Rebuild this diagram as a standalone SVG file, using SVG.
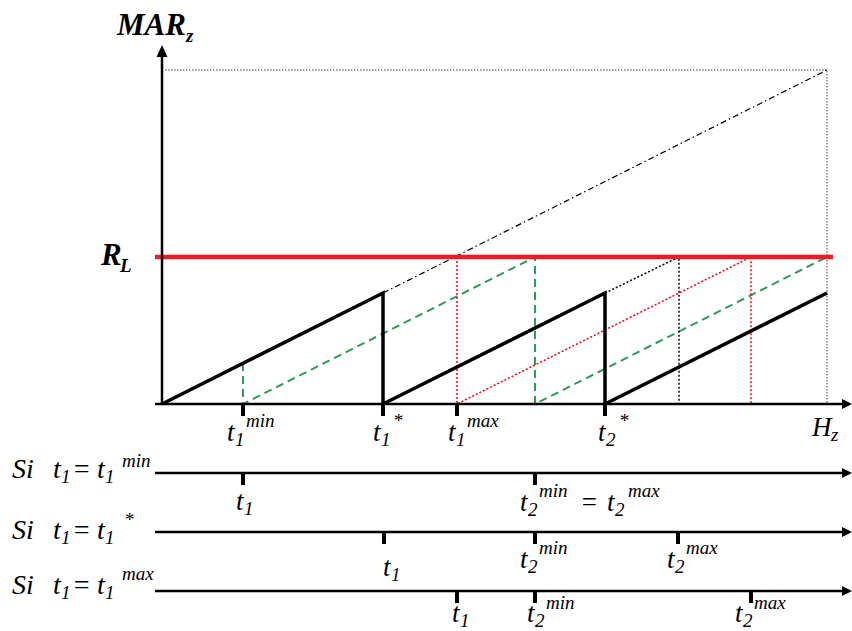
<svg xmlns="http://www.w3.org/2000/svg" width="852" height="631" viewBox="0 0 852 631">
<g id="guides" fill="none">
<path d="M165,70 H827 V404" stroke="#444" stroke-width="1" stroke-dasharray="1.5 1.5"/>
<path d="M383,293 L827,70" stroke="#000" stroke-width="1.2" stroke-dasharray="6 3 1.5 3"/>
<path d="M243,363 V404 L535,257 V404 L827,257" stroke="#2E9B5A" stroke-width="2" stroke-dasharray="8 5"/>
<path d="M457,257 V404 L751,257 V404" stroke="#FF0000" stroke-width="1.5" stroke-dasharray="2 2"/>
<path d="M605,293 L679,257 V404" stroke="#000" stroke-width="1.5" stroke-dasharray="2 2"/>
</g>
<g id="sawtooth">
<path d="M162,404 L383,293 V404 L605,293 V404 L827,293" fill="none" stroke="#000" stroke-width="3.5"/>
</g>
<g id="limit">
<line x1="155" y1="257" x2="833" y2="257" stroke="#ED1C24" stroke-width="4.5"/>
</g>
<g id="axes" stroke="#000">
<line x1="162" y1="404" x2="162" y2="56" stroke-width="2.5"/>
<path d="M162,45 L156.5,57 L167.5,57 Z" fill="#000" stroke="none"/>
<line x1="155" y1="404" x2="843" y2="404" stroke-width="2.5"/>
<path d="M852,404 L842,399 L842,409 Z" fill="#000" stroke="none"/>
<line x1="243" y1="404" x2="243" y2="416" stroke-width="4"/>
<line x1="383" y1="404" x2="383" y2="416" stroke-width="4"/>
<line x1="457" y1="404" x2="457" y2="416" stroke-width="4"/>
<line x1="605" y1="404" x2="605" y2="416" stroke-width="4"/>
</g>
<g id="timelines" stroke="#000">
<line x1="155" y1="473" x2="843" y2="473" stroke-width="2.5"/>
<path d="M852,473 L842,468 L842,478 Z" fill="#000" stroke="none"/>
<line x1="155" y1="532" x2="843" y2="532" stroke-width="2.5"/>
<path d="M852,532 L842,527 L842,537 Z" fill="#000" stroke="none"/>
<line x1="155" y1="591" x2="843" y2="591" stroke-width="2.5"/>
<path d="M852,591 L842,586 L842,596 Z" fill="#000" stroke="none"/>
<line x1="243" y1="473" x2="243" y2="485" stroke-width="4"/>
<line x1="535" y1="473" x2="535" y2="485" stroke-width="4"/>
<line x1="384" y1="532" x2="384" y2="544" stroke-width="4"/>
<line x1="535" y1="532" x2="535" y2="544" stroke-width="4"/>
<line x1="678" y1="532" x2="678" y2="544" stroke-width="4"/>
<line x1="457" y1="591" x2="457" y2="603" stroke-width="4"/>
<line x1="535" y1="591" x2="535" y2="603" stroke-width="4"/>
<line x1="751" y1="591" x2="751" y2="603" stroke-width="4"/>
</g>
<text x="117" y="35" font-family="Liberation Serif" font-style="italic" font-weight="bold" font-size="31">MAR</text>
<text x="186" y="42" font-family="Liberation Serif" font-style="italic" font-weight="bold" font-size="19">z</text>
<text x="101" y="265" font-family="Liberation Serif" font-style="italic" font-weight="bold" font-size="31">R</text>
<text x="120" y="272" font-family="Liberation Serif" font-style="italic" font-weight="bold" font-size="19">L</text>
<text x="812" y="436" font-family="Liberation Serif" font-style="italic" font-size="27">H</text>
<text x="831" y="441" font-family="Liberation Serif" font-style="italic" font-size="19">z</text>
<text x="227" y="441" font-family="Liberation Serif" font-style="italic" font-size="27">t</text>
<text x="235" y="446" font-family="Liberation Serif" font-style="italic" font-size="19">1</text>
<text x="246" y="427" font-family="Liberation Serif" font-style="italic" font-size="19">min</text>
<text x="373" y="441" font-family="Liberation Serif" font-style="italic" font-size="27">t</text>
<text x="381" y="446" font-family="Liberation Serif" font-style="italic" font-size="19">1</text>
<text x="393" y="427" font-family="Liberation Serif" font-style="italic" font-size="19">*</text>
<text x="448" y="441" font-family="Liberation Serif" font-style="italic" font-size="27">t</text>
<text x="456" y="446" font-family="Liberation Serif" font-style="italic" font-size="19">1</text>
<text x="467" y="427" font-family="Liberation Serif" font-style="italic" font-size="19">max</text>
<text x="598" y="441" font-family="Liberation Serif" font-style="italic" font-size="27">t</text>
<text x="606" y="446" font-family="Liberation Serif" font-style="italic" font-size="19">2</text>
<text x="619" y="427" font-family="Liberation Serif" font-style="italic" font-size="19">*</text>
<text x="12" y="478" font-family="Liberation Serif" font-style="italic" font-size="28">Si</text>
<text x="53" y="478" font-family="Liberation Serif" font-style="italic" font-size="28">t</text>
<text x="61" y="483" font-family="Liberation Serif" font-style="italic" font-size="19">1</text>
<text x="72" y="478" font-family="Liberation Serif" font-style="italic" font-size="28">=</text>
<text x="97" y="478" font-family="Liberation Serif" font-style="italic" font-size="28">t</text>
<text x="105" y="483" font-family="Liberation Serif" font-style="italic" font-size="19">1</text>
<text x="122" y="467" font-family="Liberation Serif" font-style="italic" font-size="19">min</text>
<text x="12" y="539" font-family="Liberation Serif" font-style="italic" font-size="28">Si</text>
<text x="53" y="539" font-family="Liberation Serif" font-style="italic" font-size="28">t</text>
<text x="61" y="544" font-family="Liberation Serif" font-style="italic" font-size="19">1</text>
<text x="72" y="539" font-family="Liberation Serif" font-style="italic" font-size="28">=</text>
<text x="97" y="539" font-family="Liberation Serif" font-style="italic" font-size="28">t</text>
<text x="105" y="544" font-family="Liberation Serif" font-style="italic" font-size="19">1</text>
<text x="124" y="526" font-family="Liberation Serif" font-style="italic" font-size="19">*</text>
<text x="12" y="594" font-family="Liberation Serif" font-style="italic" font-size="28">Si</text>
<text x="53" y="594" font-family="Liberation Serif" font-style="italic" font-size="28">t</text>
<text x="61" y="599" font-family="Liberation Serif" font-style="italic" font-size="19">1</text>
<text x="72" y="594" font-family="Liberation Serif" font-style="italic" font-size="28">=</text>
<text x="97" y="594" font-family="Liberation Serif" font-style="italic" font-size="28">t</text>
<text x="105" y="599" font-family="Liberation Serif" font-style="italic" font-size="19">1</text>
<text x="122" y="580" font-family="Liberation Serif" font-style="italic" font-size="19">max</text>
<text x="236" y="510" font-family="Liberation Serif" font-style="italic" font-size="27">t</text>
<text x="244" y="515" font-family="Liberation Serif" font-style="italic" font-size="19">1</text>
<text x="520" y="511" font-family="Liberation Serif" font-style="italic" font-size="27">t</text>
<text x="528" y="516" font-family="Liberation Serif" font-style="italic" font-size="19">2</text>
<text x="539" y="497" font-family="Liberation Serif" font-style="italic" font-size="19">min</text>
<text x="580" y="511" font-family="Liberation Serif" font-style="italic" font-size="27">=</text>
<text x="607" y="511" font-family="Liberation Serif" font-style="italic" font-size="27">t</text>
<text x="615" y="516" font-family="Liberation Serif" font-style="italic" font-size="19">2</text>
<text x="628" y="497" font-family="Liberation Serif" font-style="italic" font-size="19">max</text>
<text x="383" y="576" font-family="Liberation Serif" font-style="italic" font-size="27">t</text>
<text x="391" y="581" font-family="Liberation Serif" font-style="italic" font-size="19">1</text>
<text x="520" y="568" font-family="Liberation Serif" font-style="italic" font-size="27">t</text>
<text x="528" y="573" font-family="Liberation Serif" font-style="italic" font-size="19">2</text>
<text x="539" y="554" font-family="Liberation Serif" font-style="italic" font-size="19">min</text>
<text x="667" y="568" font-family="Liberation Serif" font-style="italic" font-size="27">t</text>
<text x="675" y="573" font-family="Liberation Serif" font-style="italic" font-size="19">2</text>
<text x="686" y="554" font-family="Liberation Serif" font-style="italic" font-size="19">max</text>
<text x="452" y="622" font-family="Liberation Serif" font-style="italic" font-size="27">t</text>
<text x="460" y="627" font-family="Liberation Serif" font-style="italic" font-size="19">1</text>
<text x="527" y="622" font-family="Liberation Serif" font-style="italic" font-size="27">t</text>
<text x="535" y="627" font-family="Liberation Serif" font-style="italic" font-size="19">2</text>
<text x="546" y="609" font-family="Liberation Serif" font-style="italic" font-size="19">min</text>
<text x="735" y="622" font-family="Liberation Serif" font-style="italic" font-size="27">t</text>
<text x="743" y="627" font-family="Liberation Serif" font-style="italic" font-size="19">2</text>
<text x="754" y="609" font-family="Liberation Serif" font-style="italic" font-size="19">max</text>
</svg>
